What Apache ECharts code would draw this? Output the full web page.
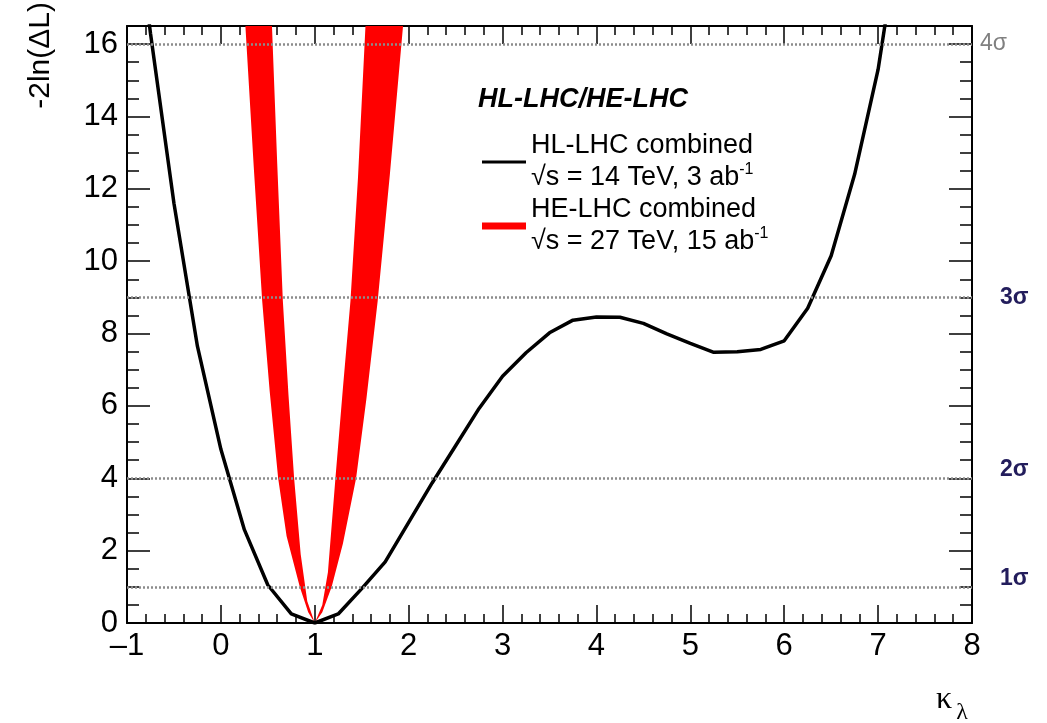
<!DOCTYPE html>
<html>
<head>
<meta charset="utf-8">
<script src="https://cdn.jsdelivr.net/npm/echarts@6/dist/echarts.min.js"></script>
<style>
html, body { margin: 0; padding: 0; background: #fff; }
#chart { width: 1047px; height: 723px; }
</style>
</head>
<body>
<div id="chart"></div>
<script>
// HL-LHC combined: -2ln(dL) vs kappa_lambda
var hlKappa = [-1, -0.75, -0.5, -0.25, 0, 0.25, 0.5, 0.75, 1, 1.25, 1.5, 1.75, 2, 2.25, 2.5, 2.75, 3, 3.25, 3.5, 3.75, 4, 4.25, 4.5, 4.75, 5, 5.25, 5.5, 5.75, 6, 6.25, 6.5, 6.75, 7, 7.25];
var hlNll = [21.5, 16.3, 11.6, 7.65, 4.8, 2.58, 1.05, 0.25, 0, 0.25, 0.95, 1.69, 2.78, 3.87, 4.9, 5.93, 6.82, 7.47, 8.02, 8.37, 8.46, 8.45, 8.28, 7.99, 7.73, 7.48, 7.5, 7.56, 7.8, 8.7, 10.15, 12.4, 15.3, 19.5];

// HE-LHC combined band: outer edge and inner edge
var heOuterKappa = [0.261, 0.35, 0.44, 0.52, 0.61, 0.70, 0.84, 0.93, 1, 1.08, 1.18, 1.30, 1.44, 1.55, 1.67, 1.80, 1.94];
var heOuterNll = [16.5, 12.6, 8.9, 6.4, 4.0, 2.4, 1.0, 0.3, 0, 0.3, 1.0, 2.2, 4.0, 6.2, 8.9, 12.4, 16.5];
var heInnerKappa = [0.544, 0.60, 0.66, 0.72, 0.78, 0.85, 0.92, 1, 1.08, 1.14, 1.22, 1.30, 1.38, 1.46, 1.54];
var heInnerNll = [16.5, 12.7, 8.9, 6.3, 4.0, 1.9, 0.6, 0, 0.5, 1.4, 4.0, 6.5, 8.9, 12.3, 16.5];

// sigma reference lines
var sigmaLevels = [1, 4, 9, 16];
var sigmaLabels = ['1σ', '2σ', '3σ', '4σ'];

var hlName = 'HL-LHC combined';
var heName = 'HE-LHC combined';
var legendSub = {};
legendSub[hlName] = '√s = 14 TeV, 3 ab{sup|-1}';
legendSub[heName] = '√s = 27 TeV, 15 ab{sup|-1}';

var font = 'Liberation Sans, Arial, Helvetica, sans-serif';

var myChart = echarts.init(document.getElementById('chart'));

function hlData() {
    var d = [];
    for (var i = 0; i < hlKappa.length; i++) d.push([hlKappa[i], hlNll[i]]);
    return d;
}

function sigmaLines() {
    var d = [];
    for (var i = 0; i < sigmaLevels.length; i++) {
        var lv = sigmaLevels[i];
        var top = lv === 16;
        // 1σ and 2σ sit a little above their line: add an empty second line
        var raise = (lv === 1 || lv === 4);
        d.push({
            yAxis: lv,
            label: {
                show: true,
                position: 'end',
                formatter: raise ? sigmaLabels[i] + '\n ' : sigmaLabels[i],
                distance: top ? 8 : 28,
                color: top ? '#808080' : '#231d5c',
                fontWeight: top ? 'normal' : 'bold',
                fontSize: 23,
                lineHeight: raise ? 17 : 26,
                fontFamily: font
            }
        });
    }
    return d;
}

var blackTicks = { color: '#000', width: 1.5 };

var option = {
    animation: false,
    grid: { left: 127, right: 75, top: 26, bottom: 100 },
    title: {
        text: 'HL-LHC/HE-LHC',
        left: 473,
        top: 81,
        textStyle: { fontSize: 27, fontWeight: 'bold', fontStyle: 'italic', color: '#000', fontFamily: font }
    },
    legend: {
        orient: 'vertical',
        left: 477,
        top: 125,
        itemWidth: 44,
        itemHeight: 16,
        itemGap: 0,
        symbolKeepAspect: true,
        itemStyle: { borderWidth: 0 },
        data: [
            { name: hlName, icon: 'path://M0,0H44V3H0Z' },
            { name: heName, icon: 'path://M0,0H44V7H0Z' }
        ],
        textStyle: {
            fontSize: 27,
            lineHeight: 32,
            color: '#000',
            fontFamily: font,
            rich: {
                sup: { fontSize: 16, verticalAlign: 'top', lineHeight: 20, color: '#000', fontFamily: font }
            }
        },
        formatter: function (name) {
            return name + '\n' + legendSub[name];
        }
    },
    xAxis: [
        {
            type: 'value', position: 'bottom', min: -1, max: 8, interval: 1,
            axisLine: { onZero: false, lineStyle: { color: '#000', width: 2 } },
            axisTick: { inside: true, length: 18, lineStyle: blackTicks },
            minorTick: { show: true, splitNumber: 5, length: 9, lineStyle: blackTicks },
            splitLine: { show: false },
            axisLabel: {
                fontSize: 31, color: '#000', margin: 8, fontFamily: font,
                formatter: function (v) { return v < 0 ? '\u2013' + (-v) : String(v); }
            }
        },
        {
            type: 'value', position: 'top', min: -1, max: 8, interval: 1,
            axisLine: { onZero: false, lineStyle: { color: '#000', width: 2 } },
            axisTick: { inside: true, length: 18, lineStyle: blackTicks },
            minorTick: { show: true, splitNumber: 5, length: 9, lineStyle: blackTicks },
            splitLine: { show: false },
            axisLabel: { show: false }
        }
    ],
    yAxis: [
        {
            type: 'value', position: 'left', min: 0, max: 16.5, interval: 2,
            axisLine: { show: true, onZero: false, lineStyle: { color: '#000', width: 2 } },
            axisTick: { show: true, inside: true, length: 23, lineStyle: blackTicks },
            splitLine: { show: false },
            axisLabel: {
                fontSize: 31, color: '#000', margin: 9, fontFamily: font,
                formatter: function (v) { return v % 2 === 0 ? String(v) : ''; }
            }
        },
        {
            type: 'value', position: 'left', min: 0, max: 16.5, interval: 0.5,
            axisLine: { show: false, onZero: false },
            axisTick: { show: true, inside: true, length: 12, lineStyle: blackTicks },
            splitLine: { show: false },
            axisLabel: { show: false }
        },
        {
            type: 'value', position: 'right', min: 0, max: 16.5, interval: 2,
            axisLine: { show: true, onZero: false, lineStyle: { color: '#000', width: 2 } },
            axisTick: { show: true, inside: true, length: 23, lineStyle: blackTicks },
            splitLine: { show: false },
            axisLabel: { show: false }
        },
        {
            type: 'value', position: 'right', min: 0, max: 16.5, interval: 0.5,
            axisLine: { show: false, onZero: false },
            axisTick: { show: true, inside: true, length: 12, lineStyle: blackTicks },
            splitLine: { show: false },
            axisLabel: { show: false }
        }
    ],
    graphic: [
        {
            type: 'text', x: 41, y: 2, rotation: Math.PI / 2,
            style: { text: '-2ln(ΔL)', fontSize: 30, fontFamily: font, fill: '#000', align: 'right', verticalAlign: 'middle' }
        },
        {
            type: 'text', x: 936, y: 700,
            style: {
                text: '{k|κ}{l|λ}',
                verticalAlign: 'middle',
                rich: {
                    k: { fontSize: 32, fontFamily: 'Liberation Serif, serif', fill: '#000' },
                    l: { fontSize: 24, fontFamily: 'Liberation Serif, serif', fill: '#000', padding: [26, 0, 0, 4] }
                }
            }
        }
    ],
    series: [
        {
            name: heName,
            type: 'custom',
            clip: true,
            z: 2,
            data: [[1, 0]],
            renderItem: function (params, api) {
                var pts = [];
                for (var i = 0; i < heOuterKappa.length; i++) {
                    pts.push(api.coord([heOuterKappa[i], heOuterNll[i]]));
                }
                for (var j = heInnerKappa.length - 1; j >= 0; j--) {
                    pts.push(api.coord([heInnerKappa[j], heInnerNll[j]]));
                }
                return { type: 'polygon', shape: { points: pts }, style: { fill: '#ff0000' } };
            },
            itemStyle: { color: '#ff0000' }
        },
        {
            name: hlName,
            type: 'line',
            z: 3,
            data: hlData(),
            showSymbol: false,
            symbol: 'none',
            clip: true,
            lineStyle: { color: '#000', width: 3.5 },
            itemStyle: { color: '#000' },
            markLine: {
                silent: true,
                symbol: 'none',
                animation: false,
                lineStyle: { color: '#8c8c8c', type: [2, 2], width: 2.5 },
                data: sigmaLines()
            }
        }
    ]
};

myChart.setOption(option);
</script>
</body>
</html>
